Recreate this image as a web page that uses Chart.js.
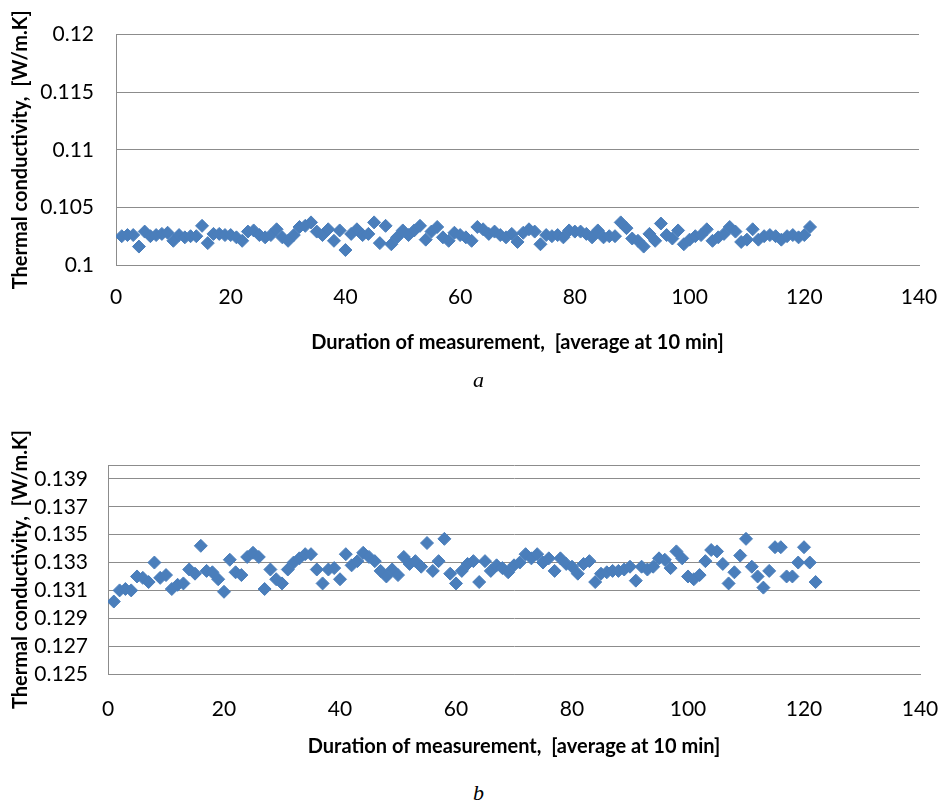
<!DOCTYPE html>
<html>
<head>
<meta charset="utf-8">
<script src="https://cdn.jsdelivr.net/npm/chart.js@4/dist/chart.umd.min.js"></script>
<style>
  html, body { margin: 0; padding: 0; background: #fff; }
  body { width: 943px; height: 803px; position: relative; overflow: hidden; }
  canvas { position: absolute; left: 0; }
  #chartA { top: 0; }
  #chartB { top: 430px; }
  .cap { position: absolute; left: 7px; width: 943px; text-align: center; font: italic 22px "Liberation Serif", serif; line-height: 26px; }
</style>
</head>
<body>
<canvas id="chartA" width="943" height="370"></canvas>
<div class="cap" style="top:367px">a</div>
<canvas id="chartB" width="943" height="340"></canvas>
<div class="cap" style="top:780px">b</div>
<script>
// thermal conductivity readings, one per 10 min average (x = 1, 2, 3 ...)
const valuesA = [
	0.1025, 0.1026, 0.1026, 0.1016, 0.1029, 0.1025, 0.1026, 0.1027, 0.1028, 0.1021,
	0.1026, 0.1024, 0.1025, 0.1025, 0.1034, 0.1019, 0.1027, 0.1027, 0.1026, 0.1026,
	0.1024, 0.1021, 0.1029, 0.1030, 0.1026, 0.1024, 0.1026, 0.1031, 0.1024, 0.1021,
	0.1026, 0.1033, 0.1034, 0.1037, 0.1029, 0.1026, 0.1031, 0.1021, 0.1030, 0.1013,
	0.1027, 0.1031, 0.1026, 0.1027, 0.1037, 0.1019, 0.1034, 0.1018, 0.1024, 0.1030,
	0.1026, 0.1030, 0.1034, 0.1022, 0.1029, 0.1033, 0.1024, 0.1021, 0.1028, 0.1026,
	0.1024, 0.1021, 0.1033, 0.1031, 0.1027, 0.1029, 0.1026, 0.1024, 0.1027, 0.1020,
	0.1028, 0.1031, 0.1029, 0.1018, 0.1026, 0.1025, 0.1026, 0.1024, 0.1030, 0.1029,
	0.1029, 0.1027, 0.1024, 0.1030, 0.1024, 0.1025, 0.1025, 0.1037, 0.1032, 0.1023,
	0.1021, 0.1016, 0.1027, 0.1021, 0.1036, 0.1026, 0.1023, 0.1030, 0.1018, 0.1022,
	0.1025, 0.1026, 0.1031, 0.1021, 0.1024, 0.1027, 0.1033, 0.1029, 0.1020, 0.1022,
	0.1031, 0.1022, 0.1025, 0.1026, 0.1025, 0.1022, 0.1025, 0.1026, 0.1024, 0.1026,
	0.1033
];

const valuesB = [
	0.1302, 0.1310, 0.1311, 0.1310, 0.1320, 0.1319, 0.1316, 0.1330, 0.1319, 0.1321,
	0.1311, 0.1314, 0.1315, 0.1325, 0.1322, 0.1342, 0.1324, 0.1323, 0.1318, 0.1309,
	0.1332, 0.1323, 0.1321, 0.1334, 0.1337, 0.1334, 0.1311, 0.1325, 0.1318, 0.1315,
	0.1325, 0.1330, 0.1333, 0.1336, 0.1336, 0.1325, 0.1315, 0.1325, 0.1326, 0.1318,
	0.1336, 0.1328, 0.1331, 0.1337, 0.1334, 0.1331, 0.1324, 0.1320, 0.1325, 0.1321,
	0.1334, 0.1329, 0.1331, 0.1327, 0.1344, 0.1324, 0.1331, 0.1347, 0.1322, 0.1315,
	0.1324, 0.1329, 0.1331, 0.1316, 0.1331, 0.1324, 0.1328, 0.1326, 0.1323, 0.1328,
	0.1330, 0.1336, 0.1333, 0.1336, 0.1330, 0.1333, 0.1324, 0.1333, 0.1329, 0.1327,
	0.1322, 0.1329, 0.1331, 0.1316, 0.1322, 0.1323, 0.1324, 0.1324, 0.1325, 0.1327,
	0.1317, 0.1327, 0.1325, 0.1327, 0.1333, 0.1332, 0.1326, 0.1338, 0.1333, 0.1320,
	0.1318, 0.1321, 0.1331, 0.1339, 0.1338, 0.1329, 0.1315, 0.1323, 0.1335, 0.1347,
	0.1327, 0.1320, 0.1312, 0.1324, 0.1341, 0.1341, 0.1320, 0.1320, 0.1330, 0.1341,
	0.1330, 0.1316
];

const xTicks = [0, 20, 40, 60, 80, 100, 120, 140];
const yTicksA = [0.1, 0.105, 0.11, 0.115, 0.12];
const yTicksB = [0.125, 0.127, 0.129, 0.131, 0.133, 0.135, 0.137, 0.139];
const yMaxB = 0.14;

const xTitle = 'Duration of measurement,  [average at 10 min]';
const yTitle = 'Thermal conductivity,  [W/m.K]';

const blue = '#4a7ebb';
const lineColor = '#8c8c8c';
const tickFont = {family: 'Lato', size: 21};
const titleFont = {family: 'Lato', size: 20, weight: 'bold'};

function makeChart(id, values, yTicks, yMin, yMax, lay) {
	const ctx = document.getElementById(id).getContext('2d');
	const points = values.map(function(v, i) {
		return {x: i + 1, y: v};
	});

	return new Chart(ctx, {
		type: 'scatter',
		data: {
			datasets: [{
				data: points,
				pointStyle: 'rectRot',
				pointRadius: 6.5,
				pointHoverRadius: 6.5,
				backgroundColor: blue,
				borderColor: blue,
				borderWidth: 1
			}]
		},
		options: {
			responsive: false,
			animation: false,
			plugins: {
				legend: {display: false},
				tooltip: {enabled: false}
			},
			layout: {
				padding: {top: lay.top, right: lay.right, bottom: lay.bottom, left: 0}
			},
			scales: {
				x: {
					type: 'linear',
					min: 0,
					max: 140,
					afterBuildTicks: function(scale) {
						scale.ticks = xTicks.map(function(v) { return {value: v}; });
					},
					// fixed height; end labels must not push the plot area in
					afterFit: function(scale) {
						scale.height = lay.xHeight;
						scale.paddingLeft = 0;
						scale.paddingRight = 0;
					},
					grid: {display: false, drawTicks: false},
					border: {display: true, color: lineColor, width: 1},
					ticks: {padding: lay.xPad, font: tickFont, color: '#000', maxRotation: 0, autoSkip: false},
					title: {display: true, text: xTitle, font: titleFont, color: '#000', padding: {top: 0, bottom: lay.xTitlePad}}
				},
				y: {
					type: 'linear',
					min: yMin,
					max: yMax,
					// a grid line at the top edge too, but no label there
					afterBuildTicks: function(scale) {
						const vals = yTicks.indexOf(yMax) < 0 ? yTicks.concat([yMax]) : yTicks;
						scale.ticks = vals.map(function(v) { return {value: v}; });
					},
					afterFit: function(scale) { scale.width = lay.yWidth; },
					grid: {color: lineColor, lineWidth: 1, drawTicks: false},
					border: {display: true, color: lineColor, width: 1},
					ticks: {
						padding: lay.yPad,
						font: tickFont,
						color: '#000',
						autoSkip: false,
						callback: function(v) {
							return yTicks.indexOf(v) < 0 ? '' : String(v);
						}
					},
					title: {display: true, text: yTitle, font: titleFont, color: '#000', padding: {top: 9, bottom: 0}}
				}
			}
		}
	});
}

makeChart('chartA', valuesA, yTicksA, 0.1, 0.12,
	{top: 30, right: 24, bottom: 10, xHeight: 95, yWidth: 116, xPad: 20, xTitlePad: 5, yPad: 22});
makeChart('chartB', valuesB, yTicksB, 0.125, yMaxB,
	{top: 35, right: 23, bottom: 0, xHeight: 96, yWidth: 108, xPad: 23, xTitlePad: 11, yPad: 20});
</script>
</body>
</html>
